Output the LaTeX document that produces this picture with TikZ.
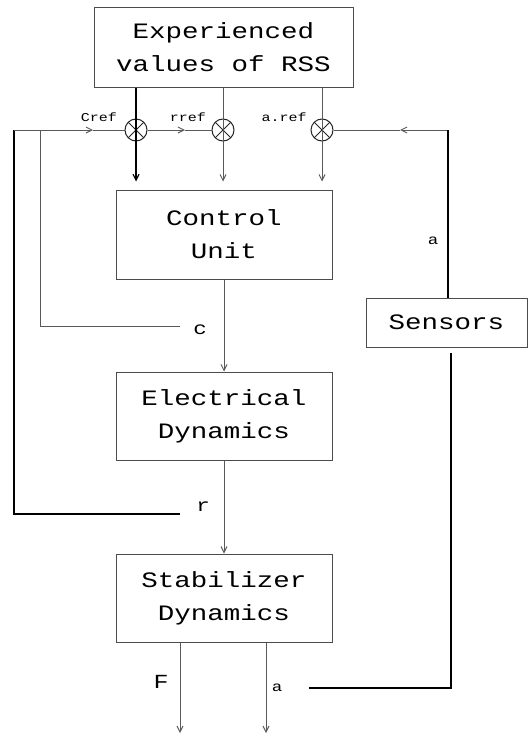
\documentclass[tikz,border=0pt]{standalone}
\usepackage{fontspec}
\newfontfamily\hfont{Liberation Mono}[FakeStretch=1.25]
\usetikzlibrary{arrows.meta,positioning,calc}

\begin{document}
\begin{tikzpicture}[x=1pt,y=-1pt,
bx/.style={draw=black!70, line width=1pt, align=center, inner sep=0pt, font=\hfont\fontsize{22}{33}\selectfont},
sm/.style={circle, draw=black!85, line width=1pt, minimum size=22pt, inner sep=0pt,
  path picture={\draw[black!85, line width=0.8pt]
    (path picture bounding box.north west)--(path picture bounding box.south east)
    (path picture bounding box.north east)--(path picture bounding box.south west);}},
ln/.style={black!65, line width=1pt},
bl/.style={black, line width=1.2pt},
ar/.style={-{Straight Barb[length=6pt,width=6pt]}},
lb/.style={inner sep=0pt, font=\hfont\fontsize{12}{12}\selectfont}
]
\useasboundingbox (0,0) rectangle (528,736);
% blocks
\node[bx, minimum width=259pt, minimum height=80pt] (exp) at (223.5,47) {Experienced\\values of RSS};
\node[bx, minimum width=216pt, minimum height=89pt] (cu) at (224,234.5) {Control\\Unit};
\node[bx, minimum width=216pt, minimum height=88pt] (ed) at (224,416) {Electrical\\Dynamics};
\node[bx, minimum width=216pt, minimum height=88pt] (sd) at (224,598) {Stabilizer\\Dynamics};
\node[bx, minimum width=161pt, minimum height=49pt] (sen) at (446.5,322.5) {Sensors};
% summing points
\node[sm] (s1) at (136,130) {};
\node[sm] (s2) at (223,130) {};
\node[sm] (s3) at (322,130) {};
% line ends
\coordinate (lo) at (14,130);
\coordinate (li) at (40,130);
\coordinate (ro) at (448,130);
\coordinate (m1) at (93,130);
\coordinate (m2) at (185,130);
\coordinate (m3) at (400,130);
\coordinate (cend) at (180,326);
\coordinate (rend) at (180,514);
\coordinate (fo) at (180,733);
\coordinate (ao) at (266,733);
\coordinate (aend) at (309,688);
\coordinate (ac) at (451,688);
\coordinate (atop) at (451,353);
% references
\draw[bl,ar,shorten >=8pt] (exp.south -| s1) -- (cu.north -| s1);
\draw[ln,ar,shorten >=8pt] (exp.south -| s2) -- (cu.north -| s2);
\draw[ln,ar,shorten >=8pt] (exp.south -| s3) -- (cu.north -| s3);
% feedback
\draw[bl] (lo) -- (lo |- rend) -- (rend);
\draw[ln] (li) -- (li |- cend) -- (cend);
\draw[ln,ar] (lo) -- (m1); \draw[ln] (m1) -- (s1);
\draw[ln,ar] (s1) -- (m2); \draw[ln] (m2) -- (s2);
\draw[ln,ar] (ro) -- (m3); \draw[ln] (m3) -- (s3);
\draw[bl] (ro) -- (sen.north -| ro);
\draw[bl] (aend) -- (ac) -- (atop);
% forward path
\draw[ln,ar] (cu) -- (ed);
\draw[ln,ar] (ed) -- (sd);
\draw[ln,ar] (sd.south -| fo) -- (fo);
\draw[ln,ar] (sd.south -| ao) -- (ao);
% labels
\node[lb] (lcr) at (99,117) {Cref};
\node[lb] (lrr) at (188,117) {rref};
\node[lb] (lar) at (284,117) {a.ref};
\node[lb, font=\hfont\fontsize{18}{18}\selectfont] (lc) at (200,330) {c};
\node[lb, font=\hfont\fontsize{18}{18}\selectfont] (lr) at (203,507) {r};
\node[lb, font=\hfont\fontsize{14}{14}\selectfont] (la1) at (433,241) {a};
\node[lb, font=\hfont\fontsize{20}{20}\selectfont] (lf) at (161,682) {F};
\node[lb, font=\hfont\fontsize{14}{14}\selectfont] (la2) at (277,688) {a};
\end{tikzpicture}
\end{document}
